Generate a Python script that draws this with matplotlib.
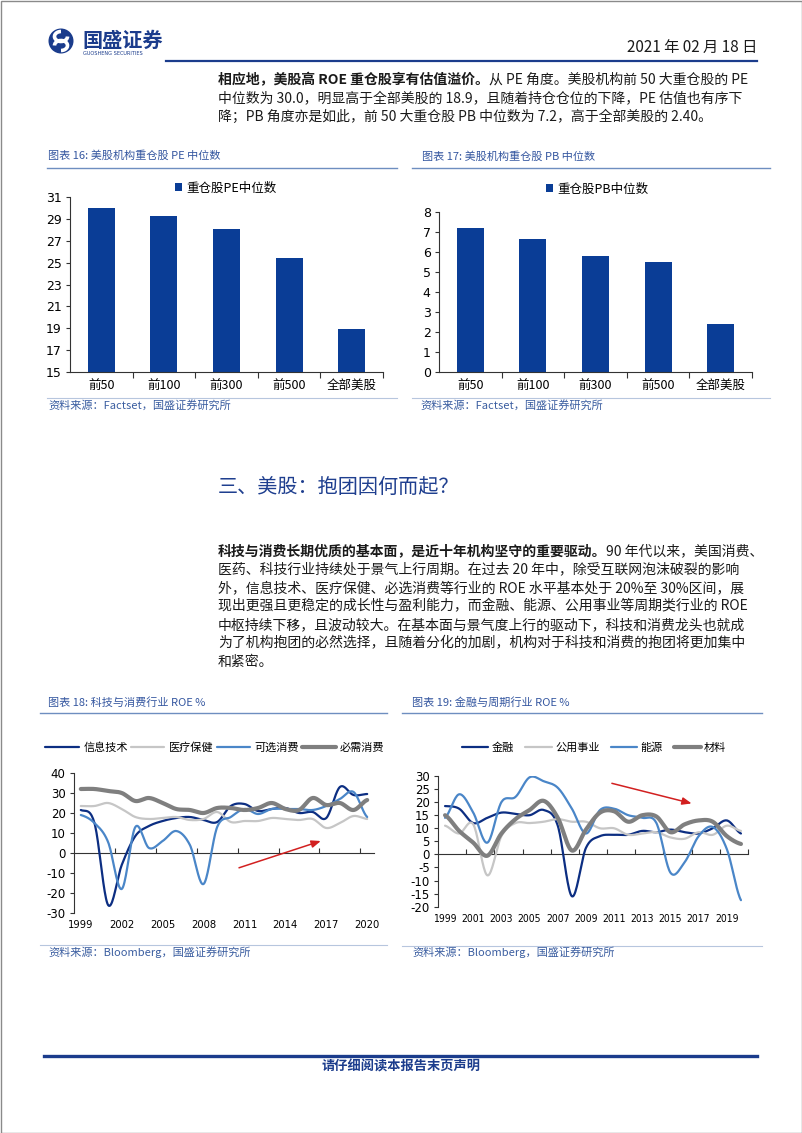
import matplotlib
matplotlib.use('Agg')
import matplotlib.pyplot as plt
import numpy as np
from matplotlib.patches import Circle, Arc, Rectangle

plt.rcParams['font.family'] = ['Noto Sans CJK SC', 'DejaVu Sans']
plt.rcParams['axes.unicode_minus'] = False

# ---------------- data ----------------
bar_cats = ['前50', '前100', '前300', '前500', '全部美股']
pe_median = [30.0, 29.3, 28.1, 25.4, 18.9]
pb_median = [7.2, 6.65, 5.8, 5.5, 2.4]
pe_label = '重仓股PE中位数'
pb_label = '重仓股PB中位数'

years = list(range(1999, 2021))
# chart 18: tech & consumer ROE %
roe_it = [21.5, 15, -26, -6, 8.5, 13.5, 16, 17.5, 18, 16.5, 15.5, 23.5, 24.5, 21, 22, 22.5, 20, 20.5, 17.5, 33, 29, 29.5]
roe_hc = [23.5, 23.5, 25, 22, 18, 17, 17.5, 18, 16.5, 17, 20.5, 15.5, 16, 16, 17.5, 17, 16.5, 17, 12.5, 15, 18.5, 17]
roe_cd = [19, 15, 5.5, -18, 13, 2.5, 6, 11, 4, -15.5, 13, 18, 22, 19.5, 22, 22, 22, 21.5, 23.5, 27, 30.5, 18]
roe_cs = [32, 32, 31, 30, 26, 27.5, 25, 22, 21.5, 20, 22.5, 22.5, 21.5, 22.5, 25, 22, 21.5, 27.5, 24, 25, 21.5, 26.5]
names18 = ['信息技术', '医疗保健', '可选消费', '必需消费']
# chart 19: financials & cyclicals ROE %
roe_fin = [18.5, 17.5, 12, 14, 16, 15.5, 15, 17, 11, -16, 2.5, 7, 7.5, 7.5, 9, 8.5, 9.5, 8.5, 8, 10, 13, 8]
roe_util = [11, 8, 11.5, -8, 7, 12, 12, 12.5, 13.5, 12.5, 12.5, 10, 10, 7.5, 8, 8.5, 6.5, 6, 8.5, 7.5, 11, 9]
roe_energy = [14, 23, 16, 4.5, 20, 22, 29.5, 28, 25.5, 17.5, 8, 17, 17.5, 15, 14, 12, -7, -3, 7, 10.5, 2, -17.5]
roe_mat = [15, 9, 4.5, -0.5, 8, 13.5, 17, 20.5, 14, 1.5, 9.5, 16, 16.5, 12.5, 15, 14.5, 8.5, 11.5, 13, 12.5, 7, 4]
names19 = ['金融', '公用事业', '能源', '材料']

# ---------------- style ----------------
W, H = 802, 1133
NAVY = '#0C2E82'
MID = '#4A86C8'
LIGHT = '#C6C6C6'
GRAY = '#7F7F7F'
BAR = '#0A3D96'
TITLE = '#3557A0'
SRC = '#3A5DA0'
RULE = '#6E8EC0'
RED = '#D22020'
DARKBLUE = '#1B3C8C'
TXT = '#1A1A1A'

fig = plt.figure(figsize=(W / 100, H / 100), dpi=100)
bg = fig.add_axes([0, 0, 1, 1])
bg.set_xlim(0, W)
bg.set_ylim(H, 0)
bg.axis('off')
bg.set_zorder(-1)
renderer = fig.canvas.get_renderer()


def rect(x0, y0, x1, y1):
    return [x0 / W, 1 - y1 / H, (x1 - x0) / W, (y1 - y0) / H]


def seg_line(x, y, segs, size=10):
    for s, bold in segs:
        t = bg.text(x, y, s, fontsize=size, fontweight='bold' if bold else 'normal',
                    va='center', ha='left', color=TXT)
        bb = t.get_window_extent(renderer=renderer)
        x = bb.x1


def smooth(y, n=20):
    y = np.asarray(y, float)
    m = len(y)
    xs, ys = [], []
    for i in range(m - 1):
        p0 = y[i - 1] if i > 0 else y[i]
        p1, p2 = y[i], y[i + 1]
        p3 = y[i + 2] if i + 2 < m else y[i + 1]
        t = np.linspace(0, 1, n, endpoint=False)
        yy = 0.5 * (2 * p1 + (-p0 + p2) * t + (2 * p0 - 5 * p1 + 4 * p2 - p3) * t ** 2
                    + (-p0 + 3 * p1 - 3 * p2 + p3) * t ** 3)
        xs.append(i + t)
        ys.append(yy)
    xs.append([m - 1])
    ys.append([y[-1]])
    return np.concatenate(xs), np.concatenate(ys)


# ---------------- page furniture ----------------
bg.add_patch(Rectangle((0.5, 0.5), W - 1, H - 1, fill=False, ec='#8A8A8A', lw=1))
# logo
bg.add_patch(Circle((61, 41), 12.5, fc=DARKBLUE, ec='none'))
bg.add_patch(Arc((61, 36.5), 13, 10, theta1=0, theta2=270, color='white', lw=2.6))
bg.add_patch(Arc((61, 45.5), 13, 10, theta1=180, theta2=90, color='white', lw=2.6))
bg.text(82, 40, '国盛证券', fontsize=14.5, fontweight='bold', color=DARKBLUE, va='center', ha='left')
bg.text(83, 53.5, 'GUOSHENG SECURITIES', fontsize=3.6, color=DARKBLUE, va='center', ha='left',
        family='DejaVu Sans')
bg.text(757, 47, '2021 年 02 月 18 日', fontsize=11, color=TXT, va='center', ha='right')
bg.plot([166, 757], [60.5, 60.5], color=DARKBLUE, lw=1.6)

# paragraph 1
p1_x = 218
seg_line(p1_x, 80, [('相应地，美股高 ROE 重仓股享有估值溢价。', True),
                     ('从 PE 角度。美股机构前 50 大重仓股的 PE', False)])
seg_line(p1_x, 98.5, [('中位数为 30.0，明显高于全部美股的 18.9，且随着持仓仓位的下降，PE 估值也有序下', False)])
seg_line(p1_x, 117, [('降；PB 角度亦是如此，前 50 大重仓股 PB 中位数为 7.2，高于全部美股的 2.40。', False)])

# section heading
bg.text(218, 487, '三、美股：抱团因何而起？', fontsize=14.5, color='#1F3F8F', va='center', ha='left')

# paragraph 2
p2_y = [551, 569.5, 588, 606.5, 625, 643.5, 662]
seg_line(p1_x, p2_y[0], [('科技与消费长期优质的基本面，是近十年机构坚守的重要驱动。', True),
                          ('90 年代以来，美国消费、', False)])
seg_line(p1_x, p2_y[1], [('医药、科技行业持续处于景气上行周期。在过去 20 年中，除受互联网泡沫破裂的影响', False)])
seg_line(p1_x, p2_y[2], [('外，信息技术、医疗保健、必选消费等行业的 ROE 水平基本处于 20%至 30%区间，展', False)])
seg_line(p1_x, p2_y[3], [('现出更强且更稳定的成长性与盈利能力，而金融、能源、公用事业等周期类行业的 ROE', False)])
seg_line(p1_x, p2_y[4], [('中枢持续下移，且波动较大。在基本面与景气度上行的驱动下，科技和消费龙头也就成', False)])
seg_line(p1_x, p2_y[5], [('为了机构抱团的必然选择，且随着分化的加剧，机构对于科技和消费的抱团将更加集中', False)])
seg_line(p1_x, p2_y[6], [('和紧密。', False)])

# chart titles, rules, sources
def chart_frame(tx, ty, title, rx0, rx1, ry, sx, sy, src, sry):
    bg.text(tx, ty, title, fontsize=8, style='italic', color=TITLE, va='center', ha='left')
    bg.plot([rx0, rx1], [ry, ry], color=RULE, lw=1.0)
    bg.plot([rx0, rx1], [sry, sry], color='#B7C6DE', lw=0.8)
    bg.text(sx, sy, src, fontsize=8, style='italic', color=SRC, va='center', ha='left')

chart_frame(48, 156, '图表 16: 美股机构重仓股 PE 中位数', 47, 397, 168, 48, 405,
            '资料来源：Factset，国盛证券研究所', 398)
chart_frame(422, 157, '图表 17: 美股机构重仓股 PB 中位数', 412, 770, 168, 420, 405,
            '资料来源：Factset，国盛证券研究所', 398)
chart_frame(48, 703, '图表 18: 科技与消费行业 ROE %', 40, 387, 713, 48, 952,
            '资料来源：Bloomberg，国盛证券研究所', 945)
chart_frame(412, 703, '图表 19: 金融与周期行业 ROE %', 402, 762, 713, 412, 952,
            '资料来源：Bloomberg，国盛证券研究所', 946)

# footer
bg.plot([44, 757], [1056, 1056], color=DARKBLUE, lw=2.4)
bg.text(401, 1067, '请仔细阅读本报告末页声明', fontsize=9.5, fontweight='bold', style='italic',
        color=DARKBLUE, va='center', ha='center')


# ---------------- bar charts ----------------
def bar_chart(box, vals, label, ylim, yticks, leg_xy):
    ax = fig.add_axes(rect(*box))
    n = len(vals)
    ax.bar(range(n), vals, width=0.43, color=BAR, label=label, zorder=2)
    ax.set_xlim(-0.5, n - 0.5)
    ax.set_ylim(*ylim)
    ax.set_yticks(yticks)
    ax.set_xticks([i + 0.5 for i in range(n)])
    ax.set_xticklabels([])
    ax.set_xticks(range(n), minor=True)
    ax.set_xticklabels(bar_cats, minor=True, fontsize=9)
    ax.tick_params(axis='x', which='major', length=4, width=0.8, direction='out', color='#333333')
    ax.tick_params(axis='x', which='minor', length=0, pad=5)
    ax.tick_params(axis='y', length=3, width=0.8, pad=3, labelsize=9, color='#333333')
    for lab in ax.get_yticklabels():
        lab.set_family('DejaVu Sans')
    for s in ['top', 'right']:
        ax.spines[s].set_visible(False)
    for s in ['left', 'bottom']:
        ax.spines[s].set_color('#333333')
        ax.spines[s].set_linewidth(0.8)
    ax.legend(loc='center', bbox_to_anchor=(leg_xy[0] / W, 1 - leg_xy[1] / H),
              bbox_transform=fig.transFigure, frameon=False, fontsize=9,
              handlelength=0.6, handleheight=0.6, handletextpad=0.35)
    return ax

bar_chart((70, 197, 383, 372), pe_median, pe_label, (15, 31), list(range(15, 32, 2)), (226, 188))
bar_chart((439, 212, 752, 372), pb_median, pb_label, (0, 8), list(range(0, 9)), (597, 189))


# ---------------- line charts ----------------
def line_chart(box, series, names, colors, widths, ylim, ystep, bstep, lstep, bound_ticks,
               leg_xy, leg_kw, arrow, ysize, xsize):
    ax = fig.add_axes(rect(*box))
    for vals, nm, c, lw in zip(series, names, colors, widths):
        xs, ys = smooth(vals)
        ax.plot(xs, ys, color=c, lw=lw, label=nm, solid_capstyle='round', zorder=3)
    n = len(years)
    ax.set_xlim(-0.5, n - 0.5)
    ax.set_ylim(*ylim)
    ax.set_yticks(np.arange(ylim[0], ylim[1] + 0.1, ystep))
    ax.spines['bottom'].set_position(('data', 0))
    for s in ['top', 'right']:
        ax.spines[s].set_visible(False)
    for s in ['left', 'bottom']:
        ax.spines[s].set_color('#333333')
        ax.spines[s].set_linewidth(0.8)
    ax.set_xticks(bound_ticks)
    ax.set_xticklabels([])
    ax.tick_params(axis='x', length=3.5, width=0.8, direction='in', color='#333333')
    ax.tick_params(axis='y', length=3, width=0.8, pad=3, labelsize=ysize, color='#333333')
    for lab in ax.get_yticklabels():
        lab.set_family('DejaVu Sans')
    ax2 = ax.twiny()
    ax2.set_xlim(ax.get_xlim())
    ax2.xaxis.set_ticks_position('bottom')
    ax2.xaxis.set_label_position('bottom')
    for s in ax2.spines.values():
        s.set_visible(False)
    ax2.set_xticks(range(0, n, lstep))
    ax2.set_xticklabels([str(y) for y in years[::lstep]])
    ax2.tick_params(axis='x', length=0, pad=5, labelsize=xsize)
    for lab in ax2.get_xticklabels():
        lab.set_family('DejaVu Sans')
        lab.set_fontstretch('condensed')
    ax.legend(loc='center', bbox_to_anchor=(leg_xy[0] / W, 1 - leg_xy[1] / H),
              bbox_transform=fig.transFigure, frameon=False, ncol=4, fontsize=8, **leg_kw)
    ax.annotate('', xy=arrow[1], xytext=arrow[0], xycoords='data',
                arrowprops=dict(arrowstyle='-|>,head_length=0.55,head_width=0.22',
                                color=RED, lw=1.1, shrinkA=0, shrinkB=0), zorder=4)
    return ax

line_chart((74, 773, 374, 913), [roe_it, roe_hc, roe_cd, roe_cs], names18,
           [NAVY, LIGHT, MID, GRAY], [1.6, 1.6, 1.6, 3.0], (-30, 40), 10, 3, 3,
           [2.5, 5.5, 8.5, 11.5, 14.5, 17.5, 20.5], (215, 748),
           dict(handlelength=3.0, handletextpad=0.4, columnspacing=0.3),
           ((11.6, -7.4), (17.6, 6.0)), 8.5, 8)

line_chart((438, 776, 748, 906.7), [roe_fin, roe_util, roe_energy, roe_mat], names19,
           [NAVY, LIGHT, MID, GRAY], [1.6, 1.6, 1.6, 3.0], (-20, 30), 5, 2, 2,
           [1.5, 3.5, 5.5, 7.5, 9.5, 11.5, 13.5, 15.5, 17.5, 19.5, 21.5], (594, 748),
           dict(handlelength=2.4, handletextpad=0.3, columnspacing=1.0),
           ((11.84, 27.2), (17.5, 19.5)), 8.5, 7.5)

fig.savefig('out.png', dpi=100)
